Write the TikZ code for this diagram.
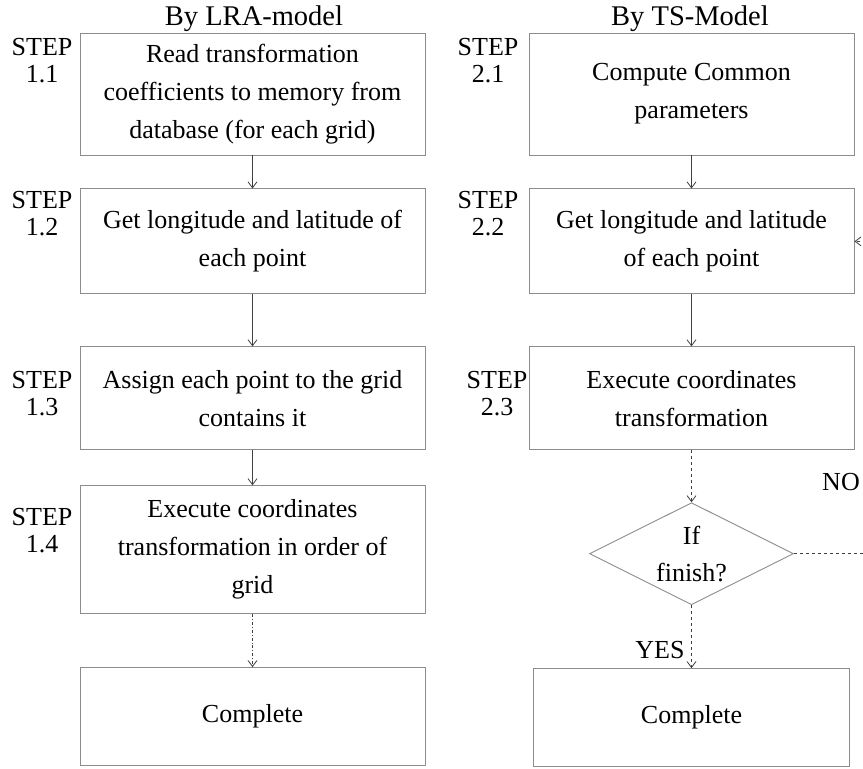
\documentclass[tikz,border=0pt]{standalone}
\usepackage{fontspec}
\setmainfont{Liberation Serif}
\usepackage{tikz}
\usetikzlibrary{arrows.meta, positioning, shapes.geometric}
\tikzset{
  stepbox/.style={
    rectangle, draw=black!45, line width=0.9pt, align=center,
    font=\fontsize{26}{38}\selectfont, inner sep=2pt
  },
  decision/.style={
    diamond, draw=black!45, line width=0.9pt, align=center, shape aspect=2,
    inner sep=0pt, minimum width=204pt, minimum height=102pt,
    font=\fontsize{26}{37}\selectfont
  },
  flow/.style={
    ->, >={Straight Barb[length=6pt,width=9pt]}, line width=0.8pt, color=black!75
  }
}

\begin{document}
\begin{tikzpicture}[
    x=1pt, y=-1pt,
    title/.style = {font=\fontsize{28.5}{30}\selectfont},
    steplabel/.style = {align=center, font=\fontsize{26}{27}\selectfont, inner sep=0pt},
    tag/.style = {font=\fontsize{26}{30}\selectfont, inner sep=0pt}
]
\useasboundingbox (0,0) rectangle (863,769);

% LRA-model path
\node[title] (lratitle) at (254,19) {By LRA-model};
\node[stepbox, minimum width=345pt, minimum height=122pt] (s11) at (252.5,94)
  {Read transformation\\coefficients to memory from\\database (for each grid)};
\node[stepbox, minimum width=345pt, minimum height=105pt, below=33pt of s11] (s12)
  {Get longitude and latitude of\\each point};
\node[stepbox, minimum width=345pt, minimum height=103pt, below=52pt of s12] (s13)
  {Assign each point to the grid\\contains it};
\node[stepbox, minimum width=345pt, minimum height=128pt, below=35pt of s13] (s14)
  {Execute coordinates\\transformation in order of\\grid};
\node[stepbox, minimum width=345pt, minimum height=98pt, below=53pt of s14] (done1)
  {Complete};

\draw[flow] (s11) -- (s12);
\draw[flow] (s12) -- (s13);
\draw[flow] (s13) -- (s14);
\draw[flow, dash dot] (s14) -- (done1);

% TS-model path
\node[title] (tstitle) at (690,19) {By TS-Model};
\node[stepbox, minimum width=325pt, minimum height=122pt] (s21) at (691.5,94)
  {Compute Common\\parameters};
\node[stepbox, minimum width=325pt, minimum height=105pt, below=33pt of s21] (s22)
  {Get longitude and latitude\\of each point};
\node[stepbox, minimum width=325pt, minimum height=103pt, below=52pt of s22] (s23)
  {Execute coordinates\\transformation};
\node[decision, below=52pt of s23] (finish) {If\\finish?};
\node[stepbox, minimum width=316pt, minimum height=98pt, below=63pt of finish] (done2)
  {Complete};

\draw[flow] (s21) -- (s22);
\draw[flow] (s22) -- (s23);
\draw[flow, dashed] (s23) -- (finish);
\draw[flow, dashed] (finish) -- (done2);

% NO loop (runs off the right edge)
\coordinate (noend) at ([xshift=75pt]finish.east);
\coordinate (noback) at ([xshift=12pt]s22.east);
\draw[dashed, line width=0.8pt, color=black!75] (finish.east) -- (noend);
\draw[flow, dashed] (noback) -- (s22.east);

% Labels
\node[steplabel] (l11) at (42,61) {STEP\\1.1};
\node[steplabel] (l12) at (42,214) {STEP\\1.2};
\node[steplabel] (l13) at (42,394) {STEP\\1.3};
\node[steplabel] (l14) at (42,531) {STEP\\1.4};
\node[steplabel] (l21) at (488,61) {STEP\\2.1};
\node[steplabel] (l22) at (488,214) {STEP\\2.2};
\node[steplabel] (l23) at (497,394) {STEP\\2.3};
\node[tag] (notag) at (841,482) {NO};
\node[tag] (yestag) at (660,650) {YES};

\end{tikzpicture}
\end{document}
